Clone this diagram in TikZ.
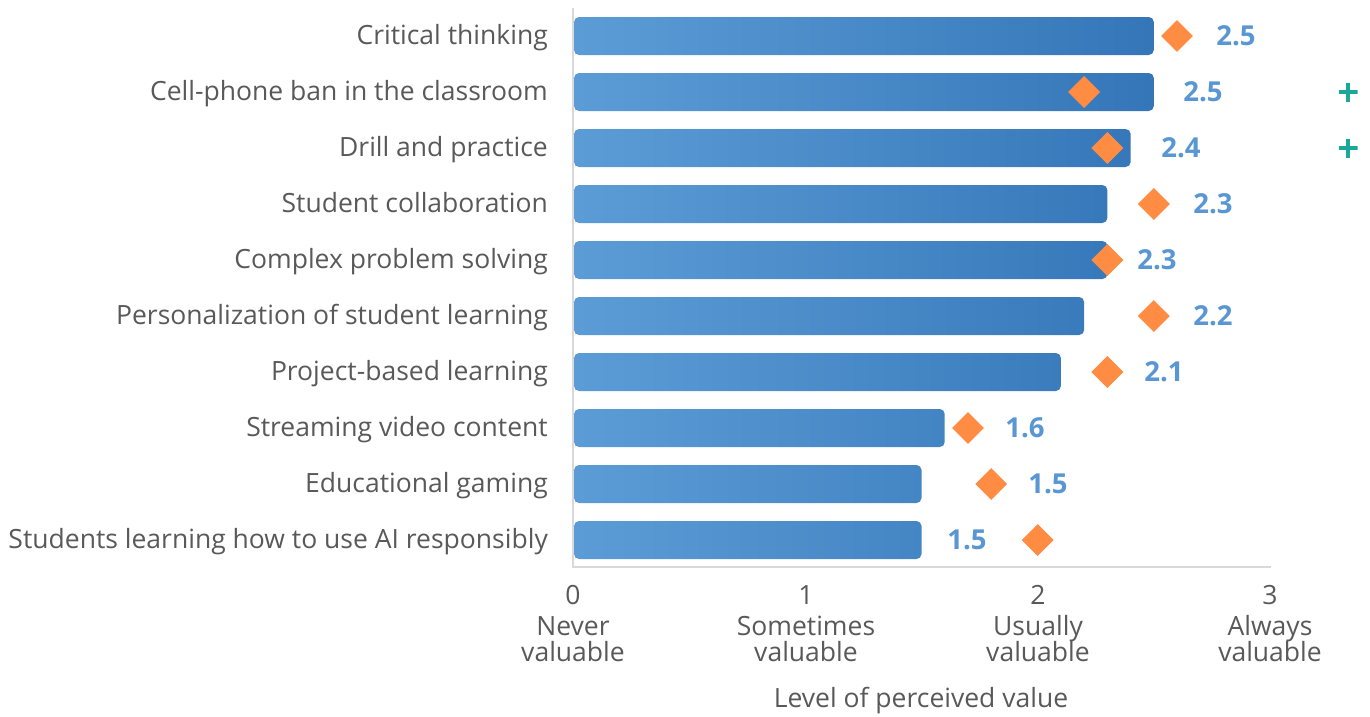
\documentclass[tikz,border=0pt]{standalone}
\usepackage{fontspec}
\setmainfont{Open Sans}
\usetikzlibrary{shapes.geometric}
\definecolor{barL}{RGB}{92,156,214}
\definecolor{barD}{RGB}{44,110,178}
\definecolor{txtgray}{RGB}{89,89,89}
\definecolor{valblue}{RGB}{88,150,212}
\definecolor{dorange}{RGB}{255,140,66}
\definecolor{plusteal}{RGB}{26,168,152}
\definecolor{axisgray}{RGB}{217,217,217}
\tikzset{
  rowlabel/.style={anchor=base east, inner sep=0pt, text=txtgray, font=\fontsize{26.5}{28}\selectfont},
  vallabel/.style={anchor=base, inner sep=0pt, text=valblue, font=\fontsize{27.5}{28}\selectfont\bfseries},
  mark diamond/.style={diamond, fill=dorange, inner sep=0pt, minimum width=32pt, minimum height=32pt},
  plusmark/.style={inner sep=0pt, minimum size=19pt, path picture={
     \draw[plusteal, line width=3.6pt] (path picture bounding box.north) -- (path picture bounding box.south)
       (path picture bounding box.west) -- (path picture bounding box.east);}},
  ticklabel/.style={anchor=base, inner sep=0pt, text=txtgray, align=center, font=\fontsize{26.5}{28}\selectfont},
  axisline/.style={draw=axisgray, line width=1.5pt},
}
\begin{document}
\begin{tikzpicture}[x=1pt,y=-1pt]
\useasboundingbox (0,0) rectangle (1370,716);
% axes
\coordinate (o) at (573,567);
\coordinate (top) at (573,8);
\coordinate (xend) at (1271,567);
\draw[axisline] (top) -- (o) -- (xend);
% rows
\foreach \i/\lab/\v/\d/\lx in {
  1/Critical thinking/2.5/2.6/1236,
  2/Cell-phone ban in the classroom/2.5/2.2/1203,
  3/Drill and practice/2.4/2.3/1181,
  4/Student collaboration/2.3/2.5/1213,
  5/Complex problem solving/2.3/2.3/1157,
  6/Personalization of student learning/2.2/2.5/1213,
  7/Project-based learning/2.1/2.3/1164,
  8/Streaming video content/1.6/1.7/1025,
  9/Educational gaming/1.5/1.8/1048,
  10/Students learning how to use AI responsibly/1.5/2.0/967}{
  \pgfmathsetmacro\yc{36+56*(\i-1)}
  \pgfmathsetmacro\xe{573+232.33*\v}
  \pgfmathsetmacro\xd{573+232.33*\d}
  \pgfmathtruncatemacro\pc{round(\v/3*100)}
  \node[rowlabel] (l\i) at (548,\yc+8) {\lab};
  \shade[left color=barL, right color=barD!\pc!barL, rounded corners=5pt]
     (574,\yc-19) rectangle (\xe,\yc+19);
  \node[mark diamond] (d\i) at (\xd,\yc) {};
  \node[vallabel] (v\i) at (\lx,\yc+9) {\v};
}
\node[plusmark] (p2) at (1348,92) {};
\node[plusmark] (p3) at (1348,148) {};
% tick labels
\node[ticklabel] (t0) at (573,604) {0};
\node[ticklabel] (t1) at (806,604) {1};
\node[ticklabel] (t2) at (1038,604) {2};
\node[ticklabel] (t3) at (1270,604) {3};
\node[ticklabel] (n0) at (573,635) {Never};
\node[ticklabel] (n1) at (806,635) {Sometimes};
\node[ticklabel] (n2) at (1038,635) {Usually};
\node[ticklabel] (n3) at (1270,635) {Always};
\node[ticklabel] (m0) at (573,661) {valuable};
\node[ticklabel] (m1) at (806,661) {valuable};
\node[ticklabel] (m2) at (1038,661) {valuable};
\node[ticklabel] (m3) at (1270,661) {valuable};
\node[ticklabel] (xt) at (921,707) {Level of perceived value};
\end{tikzpicture}
\end{document}
